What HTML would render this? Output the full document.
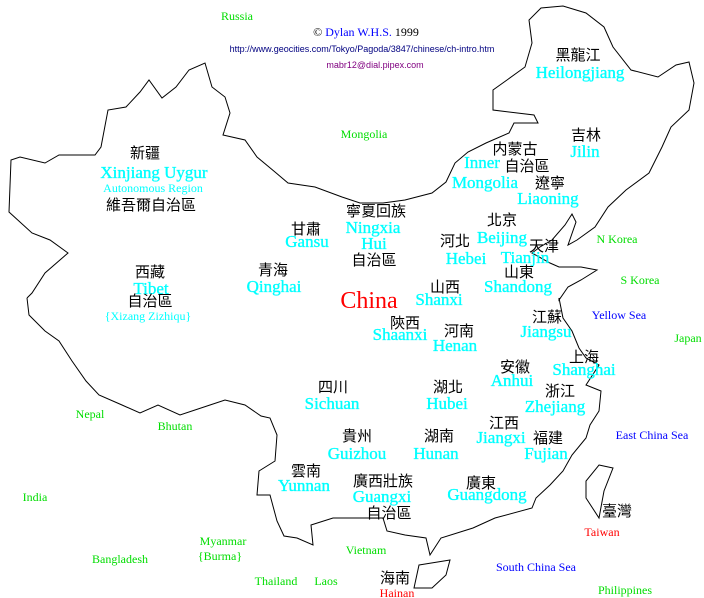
<!DOCTYPE html>
<html><head><meta charset="utf-8"><style>
html,body{margin:0;padding:0;background:#fff;}
svg{display:block;}
.zh{font-family:"Liberation Sans","Noto Sans CJK TC",sans-serif;font-size:15px;fill:#000;text-anchor:middle;}
.en{font-family:"Liberation Serif",serif;font-size:17px;fill:#00ffff;stroke:#00ffff;stroke-width:0.35;text-anchor:middle;}
.g{font-family:"Liberation Serif",serif;font-size:12px;fill:#00dd00;text-anchor:middle;}
.b{font-family:"Liberation Serif",serif;font-size:12px;fill:#0000ff;text-anchor:middle;}
.r{font-family:"Liberation Serif",serif;font-size:12px;fill:#ff0000;text-anchor:middle;}
.c{font-family:"Liberation Serif",serif;font-size:12px;fill:#00ffff;text-anchor:middle;}
.s{font-family:"Liberation Sans",sans-serif;font-size:9px;text-anchor:middle;}
</style></head><body>
<svg width="704" height="598" viewBox="0 0 704 598" xmlns="http://www.w3.org/2000/svg">
<g fill="none" stroke="#000" stroke-width="1">
<polyline points="27,298 29,315 45,331 59,341 72,361 86,381 99,395 122,405 140,413 158,405 180,415 207,406 225,400 245,405 261,416 270,418 277,435 275,461 259,471 257,495 270,495 277,521 284,536 297,538 313,545 311,525 333,518 365,518 383,518 387,531 405,535 426,538 430,555 441,538 473,528 495,518 532,508 536,498 550,485 563,471 572,455 586,438 590,425 599,411 601,391 586,385 599,365 586,358 579,348 572,331 563,318 559,298 559,300 568,287 581,280 597,270 581,267 559,267 550,263 532,253 540,247 552,240 565,225 572,214 576,222 568,245 577,240 595,227 608,207 626,190 649,173 662,147 671,127 689,110 694,83 689,62 676,65 658,77 631,70 613,47 604,27 586,13 563,6 541,8 529,20 532,43 525,67 507,80 493,90 493,110 534,115 538,123 514,123 509,133 486,143 468,152 455,163 446,182 432,193 405,200 383,203 360,203 342,197 315,187 288,183 275,172 257,157 245,140 223,135 230,113 225,97 212,87 205,63 189,70 176,87 162,98 149,80 140,92 126,107 108,110 101,147 95,155 59,155 45,163 20,157 11,160 9,212 32,233 50,240 68,253 45,273 32,293 27,298"/>
<polygon points="419,565 450,560 446,575 432,588 414,588"/>
<polygon points="599,465 613,468 604,491 599,518 586,498 586,481"/>
</g>
<text x="237" y="20" class="g">Russia</text>
<text x="366" y="36" style="font-family:'Liberation Serif',serif;font-size:12px;text-anchor:middle"><tspan fill="#000">© </tspan><tspan fill="#0000ff">Dylan W.H.S.</tspan><tspan fill="#000"> 1999</tspan></text>
<text x="362" y="52" class="s" fill="#000080">http://www.geocities.com/Tokyo/Pagoda/3847/chinese/ch-intro.htm</text>
<text x="375" y="68" class="s" fill="#800080">mabr12@dial.pipex.com</text>
<text x="364" y="138" class="g">Mongolia</text>
<text x="145" y="158" class="zh">新疆</text>
<text x="154" y="178" class="en">Xinjiang Uygur</text>
<text x="153" y="192" class="c">Autonomous Region</text>
<text x="151" y="210" class="zh">維吾爾自治區</text>
<text x="578" y="60" class="zh">黑龍江</text>
<text x="580" y="78" class="en">Heilongjiang</text>
<text x="586" y="140" class="zh">吉林</text>
<text x="585" y="157" class="en">Jilin</text>
<text x="515" y="154" class="zh">内蒙古</text>
<text x="527" y="171" class="zh">自治區</text>
<text x="482" y="168" class="en">Inner</text>
<text x="485" y="188" class="en">Mongolia</text>
<text x="550" y="188" class="zh">遼寧</text>
<text x="548" y="204" class="en">Liaoning</text>
<text x="376" y="216" class="zh">寧夏回族</text>
<text x="373" y="233" class="en">Ningxia</text>
<text x="374" y="249" class="en">Hui</text>
<text x="374" y="265" class="zh">自治區</text>
<text x="306" y="234" class="zh">甘肅</text>
<text x="307" y="247" class="en">Gansu</text>
<text x="502" y="225" class="zh">北京</text>
<text x="502" y="243" class="en">Beijing</text>
<text x="455" y="246" class="zh">河北</text>
<text x="466" y="264" class="en">Hebei</text>
<text x="544" y="251" class="zh">天津</text>
<text x="525" y="263" class="en">Tianjin</text>
<text x="519" y="277" class="zh">山東</text>
<text x="518" y="292" class="en">Shandong</text>
<text x="617" y="243" class="g">N Korea</text>
<text x="640" y="284" class="g">S Korea</text>
<text x="150" y="277" class="zh">西藏</text>
<text x="151" y="294" class="en">Tibet</text>
<text x="150" y="306" class="zh">自治區</text>
<text x="148" y="320" class="c">{Xizang Zizhiqu}</text>
<text x="273" y="275" class="zh">青海</text>
<text x="274" y="292" class="en">Qinghai</text>
<text x="369" y="308" style="font-family:'Liberation Serif',serif;font-size:24px;fill:#ff0000;text-anchor:middle">China</text>
<text x="445" y="292" class="zh">山西</text>
<text x="439" y="305" class="en">Shanxi</text>
<text x="405" y="328" class="zh">陝西</text>
<text x="400" y="340" class="en">Shaanxi</text>
<text x="459" y="336" class="zh">河南</text>
<text x="455" y="351" class="en">Henan</text>
<text x="547" y="322" class="zh">江蘇</text>
<text x="546" y="337" class="en">Jiangsu</text>
<text x="619" y="319" class="b">Yellow Sea</text>
<text x="688" y="342" class="g">Japan</text>
<text x="584" y="362" class="zh">上海</text>
<text x="584" y="375" class="en">Shanghai</text>
<text x="515" y="372" class="zh">安徽</text>
<text x="512" y="386" class="en">Anhui</text>
<text x="333" y="392" class="zh">四川</text>
<text x="332" y="409" class="en">Sichuan</text>
<text x="448" y="392" class="zh">湖北</text>
<text x="447" y="409" class="en">Hubei</text>
<text x="560" y="396" class="zh">浙江</text>
<text x="555" y="412" class="en">Zhejiang</text>
<text x="652" y="439" class="b">East China Sea</text>
<text x="504" y="428" class="zh">江西</text>
<text x="501" y="443" class="en">Jiangxi</text>
<text x="548" y="443" class="zh">福建</text>
<text x="546" y="459" class="en">Fujian</text>
<text x="357" y="441" class="zh">貴州</text>
<text x="357" y="459" class="en">Guizhou</text>
<text x="439" y="441" class="zh">湖南</text>
<text x="436" y="459" class="en">Hunan</text>
<text x="90" y="418" class="g">Nepal</text>
<text x="175" y="430" class="g">Bhutan</text>
<text x="306" y="476" class="zh">雲南</text>
<text x="304" y="491" class="en">Yunnan</text>
<text x="383" y="486" class="zh">廣西壯族</text>
<text x="382" y="502" class="en">Guangxi</text>
<text x="389" y="518" class="zh">自治區</text>
<text x="481" y="488" class="zh">廣東</text>
<text x="487" y="500" class="en">Guangdong</text>
<text x="617" y="516" class="zh">臺灣</text>
<text x="602" y="536" class="r">Taiwan</text>
<text x="35" y="501" class="g">India</text>
<text x="223" y="545" class="g">Myanmar</text>
<text x="220" y="560" class="g">{Burma}</text>
<text x="120" y="563" class="g">Bangladesh</text>
<text x="366" y="554" class="g">Vietnam</text>
<text x="536" y="571" class="b">South China Sea</text>
<text x="276" y="585" class="g">Thailand</text>
<text x="326" y="585" class="g">Laos</text>
<text x="395" y="583" class="zh">海南</text>
<text x="397" y="597" class="r">Hainan</text>
<text x="625" y="594" class="g">Philippines</text>
</svg>
</body></html>
